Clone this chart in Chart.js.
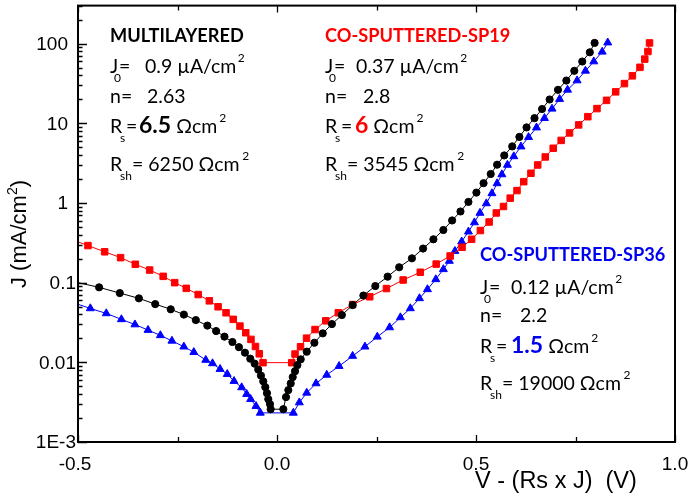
<!DOCTYPE html>
<html>
<head>
<meta charset="utf-8">
<script src="https://cdn.jsdelivr.net/npm/chart.js@4.4.1/dist/chart.umd.min.js"></script>
<style>
  html, body { margin: 0; padding: 0; background: #fff; }
  #wrap { width: 691px; height: 497px; }
</style>
</head>
<body>
<div id="wrap"><canvas id="c" width="691" height="497"></canvas></div>
<script>
// Corrected voltage V - Rs*J (V) and current density J (mA/cm2) for each cell
const multiV = [-0.53, -0.447, -0.395, -0.347, -0.306, -0.267, -0.234, -0.204, -0.175, -0.153,
  -0.132, -0.112, -0.0956, -0.0805, -0.0672, -0.0561, -0.0471, -0.0403, -0.0345, -0.0294,
  -0.0252, -0.0219, -0.0176, -0.0159,
  0.0159, 0.0226, 0.0284, 0.0345, 0.0395, 0.0453, 0.0511, 0.0596, 0.0747, 0.0939,
  0.115, 0.138, 0.163, 0.190, 0.217, 0.247, 0.278, 0.307, 0.339, 0.367,
  0.393, 0.418, 0.440, 0.461, 0.481, 0.501, 0.519, 0.537, 0.553, 0.571,
  0.591, 0.609, 0.627, 0.647, 0.666, 0.685, 0.706, 0.727, 0.747, 0.767, 0.786, 0.798];
const multiJ = [0.108, 0.0873, 0.0740, 0.0635, 0.0538, 0.0463, 0.0397, 0.0339, 0.0289, 0.0247,
  0.0210, 0.0180, 0.0155, 0.0132, 0.0111, 0.00963, 0.00810, 0.00681, 0.00577, 0.00488,
  0.00410, 0.00345, 0.00299, 0.00258,
  0.00258, 0.00366, 0.00448, 0.00543, 0.00652, 0.00775, 0.00922, 0.0109, 0.0136, 0.0176,
  0.0231, 0.0302, 0.0392, 0.0523, 0.0689, 0.0906, 0.119, 0.156, 0.202, 0.268,
  0.350, 0.458, 0.603, 0.782, 1.03, 1.35, 1.77, 2.31, 3.02, 3.95,
  5.13, 6.75, 8.88, 11.6, 15.1, 19.9, 26.3, 34.4, 45.5, 59.6, 77.8, 102];

const sp19V = [-0.53, -0.475, -0.433, -0.393, -0.356, -0.320, -0.286, -0.257, -0.228, -0.198,
  -0.170, -0.148, -0.128, -0.110, -0.0931, -0.0785, -0.0654, -0.0541, -0.0445, -0.0352,
  0.0370, 0.0453, 0.0591, 0.0742, 0.0956, 0.1225, 0.154, 0.190, 0.233, 0.275,
  0.317, 0.360, 0.400, 0.435, 0.465, 0.489, 0.511, 0.533, 0.551, 0.569,
  0.586, 0.603, 0.620, 0.638, 0.655, 0.674, 0.694, 0.714, 0.735, 0.758,
  0.781, 0.804, 0.828, 0.851, 0.873, 0.893, 0.912, 0.924, 0.932, 0.936];
const sp19J = [0.37, 0.292, 0.244, 0.206, 0.170, 0.144, 0.120, 0.100, 0.0848, 0.0709,
  0.0591, 0.0498, 0.0419, 0.0346, 0.0285, 0.0235, 0.0194, 0.0158, 0.0128, 0.0099,
  0.0099, 0.0127, 0.0157, 0.0201, 0.0258, 0.0332, 0.0419, 0.0531, 0.0665, 0.0843,
  0.108, 0.135, 0.171, 0.216, 0.278, 0.350, 0.451, 0.577, 0.749, 0.904,
  1.15, 1.43, 1.85, 2.36, 3.00, 3.78, 4.86, 6.10, 7.57, 9.55,
  12.1, 15.3, 19.4, 24.8, 31.5, 39.4, 50.4, 63.9, 79.6, 102];

const sp36V = [-0.53, -0.469, -0.429, -0.391, -0.357, -0.324, -0.293, -0.264, -0.234, -0.209,
  -0.179, -0.162, -0.143, -0.125, -0.108, -0.0888, -0.0762, -0.0662, -0.0528, -0.0420,
  0.0410, 0.0561, 0.0747, 0.0981, 0.125, 0.156, 0.190, 0.221, 0.252, 0.283,
  0.310, 0.335, 0.358, 0.378, 0.399, 0.418, 0.433, 0.447, 0.464, 0.481,
  0.496, 0.510, 0.526, 0.540, 0.553, 0.565, 0.579, 0.595, 0.613, 0.632,
  0.652, 0.672, 0.691, 0.710, 0.730, 0.754, 0.775, 0.796, 0.817, 0.831];
const sp36J = [0.060, 0.0475, 0.0411, 0.0346, 0.0298, 0.0254, 0.0218, 0.0186, 0.0157, 0.0134,
  0.0107, 0.00969, 0.00822, 0.00711, 0.00581, 0.00484, 0.00399, 0.00345, 0.00282, 0.00232,
  0.00232, 0.00313, 0.00414, 0.00543, 0.00695, 0.00896, 0.0120, 0.0157, 0.0209, 0.0274,
  0.0366, 0.0475, 0.0635, 0.0824, 0.110, 0.147, 0.187, 0.249, 0.327, 0.436,
  0.569, 0.749, 0.986, 1.32, 1.76, 2.28, 3.00, 3.84, 5.10, 6.69,
  8.83, 11.6, 15.2, 20.1, 26.3, 34.4, 45.5, 59.6, 78.9, 103];

// Axis ticks and their labels
const xMajor = [-0.5, 0.0, 0.5, 1.0];
const xMajorLabels = ['-0.5', '0.0', '0.5', '1.0'];
const xMinor = [-0.25, 0.25, 0.75];
const yMajor = [0.001, 0.01, 0.1, 1, 10, 100];
const yMajorLabels = ['1E-3', '0.01', '0.1', '1', '10', '100'];

const pts = (xs, ys) => xs.map((x, i) => ({ x: x, y: ys[i] }));

const AXIS_FONT = '"Liberation Sans", Arial, sans-serif';
const NOTE_FONT = 'Lato, "Open Sans", sans-serif';
const BODY = 19.5, SMALL = 12, TITLE = 18.2, BIG = 23;

// Draws one piece of text and returns the x where it ends
function put(ctx, text, x, y, size, color, bold) {
  ctx.font = (bold ? 'bold ' : '') + size + 'px ' + NOTE_FONT;
  ctx.fillStyle = color || '#000';
  ctx.textAlign = 'left';
  ctx.textBaseline = 'alphabetic';
  ctx.fillText(text, x, y);
  return x + ctx.measureText(text).width;
}

// One parameter block: heading, J0, n, Rs and Rsh lines
function block(ctx, b) {
  const K = '#000';
  const x = b.x;
  put(ctx, b.title, x, b.y[0], TITLE, b.color, true);
  // J0 line
  put(ctx, 'J', x, b.y[1], BODY, K);
  put(ctx, '0', x + 4, b.y[1] + 9, SMALL, K);
  put(ctx, '=', x + 9, b.y[1], BODY, K);
  let e = put(ctx, b.j0 + ' \u00b5A/cm', b.j0x, b.y[1], BODY, K);
  put(ctx, '2', e + 1.5, b.y[1] - 11, SMALL, K);
  // n line
  put(ctx, 'n=', x, b.y[2], BODY, K);
  put(ctx, b.n, b.nx, b.y[2], BODY, K);
  // Rs line
  put(ctx, 'R', x, b.y[3], BODY, K);
  put(ctx, 's', x + 10, b.y[3] + 9, SMALL, K);
  put(ctx, '=', x + 16, b.y[3], BODY, K);
  e = put(ctx, b.rs, b.rsx, b.y[3], BIG, b.rsColor, true);
  e = put(ctx, '\u03a9cm', e + 5, b.y[3], BODY, K);
  put(ctx, '2', e + 2, b.y[3] - 11, SMALL, K);
  // Rsh line
  put(ctx, 'R', x, b.y[4], BODY, K);
  put(ctx, 'sh', x + 10, b.y[4] + 9, SMALL, K);
  e = put(ctx, '= ' + b.rsh + ' \u03a9cm', x + 22, b.y[4], BODY, K);
  put(ctx, '2', e + 2.5, b.y[4] - 11, SMALL, K);
}

function drawNotes(ctx) {
  block(ctx, { title: 'MULTILAYERED', color: '#000', x: 110, y: [42, 73, 103, 133, 171],
    j0: '0.9', j0x: 145, n: '2.63', nx: 147, rs: '6.5', rsx: 139, rsColor: '#000', rsh: '6250' });
  block(ctx, { title: 'CO-SPUTTERED-SP19', color: '#ff0000', x: 325, y: [42, 73, 103, 133, 171],
    j0: '0.37', j0x: 356, n: '2.8', nx: 363, rs: '6', rsx: 355, rsColor: '#ff0000', rsh: '3545' });
  block(ctx, { title: 'CO-SPUTTERED-SP36', color: '#0000f0', x: 480, y: [261, 294, 322, 353, 390],
    j0: '0.12', j0x: 511, n: '2.2', nx: 520, rs: '1.5', rsx: 511, rsColor: '#0000f0', rsh: '19000' });
}

// Frame, inward ticks, tick labels, axis titles and notes
const framePlugin = {
  id: 'frame',
  afterDraw(chart) {
    const ctx = chart.ctx;
    const a = chart.chartArea;
    const xs = chart.scales.x, ys = chart.scales.y;
    ctx.save();
    ctx.strokeStyle = '#000';
    ctx.lineWidth = 2;
    ctx.strokeRect(a.left, a.top, a.right - a.left, a.bottom - a.top);

    ctx.lineWidth = 1.3;
    ctx.beginPath();
    // x ticks, bottom and top, pointing inward
    xMajor.concat(xMinor).forEach(v => {
      const px = Math.round(xs.getPixelForValue(v)) + 0.5;
      const len = xMajor.includes(v) ? 7 : 5;
      ctx.moveTo(px, a.bottom); ctx.lineTo(px, a.bottom - len);
      ctx.moveTo(px, a.top); ctx.lineTo(px, a.top + len);
    });
    // y ticks on the left: decades long, 2..9 short
    for (let e = -3; e <= 2; e++) {
      for (let m = 1; m <= 9; m++) {
        const v = m * Math.pow(10, e);
        if (v > ys.max) continue;
        const py = Math.round(ys.getPixelForValue(v)) + 0.5;
        const len = m === 1 ? 9 : 4.5;
        ctx.moveTo(a.left, py); ctx.lineTo(a.left + len, py);
      }
    }
    ctx.stroke();

    // tick labels
    ctx.fillStyle = '#000';
    ctx.font = '19px ' + AXIS_FONT;
    ctx.textAlign = 'center';
    ctx.textBaseline = 'alphabetic';
    xMajor.forEach((v, i) => {
      ctx.fillText(xMajorLabels[i], xs.getPixelForValue(v) - (v < 0 ? 3 : 0), 470);
    });
    ctx.textAlign = 'right';
    ctx.textBaseline = 'middle';
    yMajor.forEach((v, i) => {
      const right = v >= 1 ? a.left - 10 : a.left - 2;
      ctx.fillText(yMajorLabels[i], right, ys.getPixelForValue(v) + 1);
    });

    // x title
    ctx.font = '23.5px ' + AXIS_FONT;
    ctx.textAlign = 'left';
    ctx.textBaseline = 'alphabetic';
    ctx.fillText('V - (Rs x J)  (V)', 475, 488);

    // y title, rotated
    ctx.save();
    ctx.translate(26, 234);
    ctx.rotate(-Math.PI / 2);
    ctx.font = '22px ' + AXIS_FONT;
    const p1 = 'J (mA/cm';
    const w1 = ctx.measureText(p1).width;
    ctx.font = '14px ' + AXIS_FONT;
    const w2 = ctx.measureText('2').width;
    ctx.font = '22px ' + AXIS_FONT;
    const w3 = ctx.measureText(')').width;
    const x0 = -(w1 + w2 + w3) / 2;
    ctx.fillText(p1, x0, 0);
    ctx.font = '14px ' + AXIS_FONT;
    ctx.fillText('2', x0 + w1, -9);
    ctx.font = '22px ' + AXIS_FONT;
    ctx.fillText(')', x0 + w1 + w2, 0);
    ctx.restore();

    drawNotes(ctx);
    ctx.restore();
  }
};

const ds = (label, xs, ys, color, style, radius) => ({
  label: label,
  data: pts(xs, ys),
  borderColor: color,
  backgroundColor: color,
  borderWidth: 1,
  pointStyle: style,
  pointRadius: radius,
  pointBorderWidth: 1,
  pointBorderColor: color,
  pointBackgroundColor: color,
  pointHoverRadius: radius,
  tension: 0,
  clip: 0
});

new Chart(document.getElementById('c'), {
  type: 'line',
  data: {
    datasets: [
      ds('MULTILAYERED', multiV, multiJ, '#000000', 'circle', 3.6),
      ds('CO-SPUTTERED-SP19', sp19V, sp19J, '#ff0000', 'rect', 4.6),
      ds('CO-SPUTTERED-SP36', sp36V, sp36J, '#0000ff', 'triangle', 4.6)
    ]
  },
  options: {
    responsive: false,
    animation: false,
    devicePixelRatio: 1,
    layout: { padding: { left: 78, right: 16, top: 5, bottom: 55 } },
    plugins: { legend: { display: false }, tooltip: { enabled: false } },
    scales: {
      x: { type: 'linear', min: -0.5, max: 1.0, display: false },
      y: { type: 'logarithmic', min: 0.001, max: 300, display: false }
    }
  },
  plugins: [framePlugin]
});
</script>
</body>
</html>
